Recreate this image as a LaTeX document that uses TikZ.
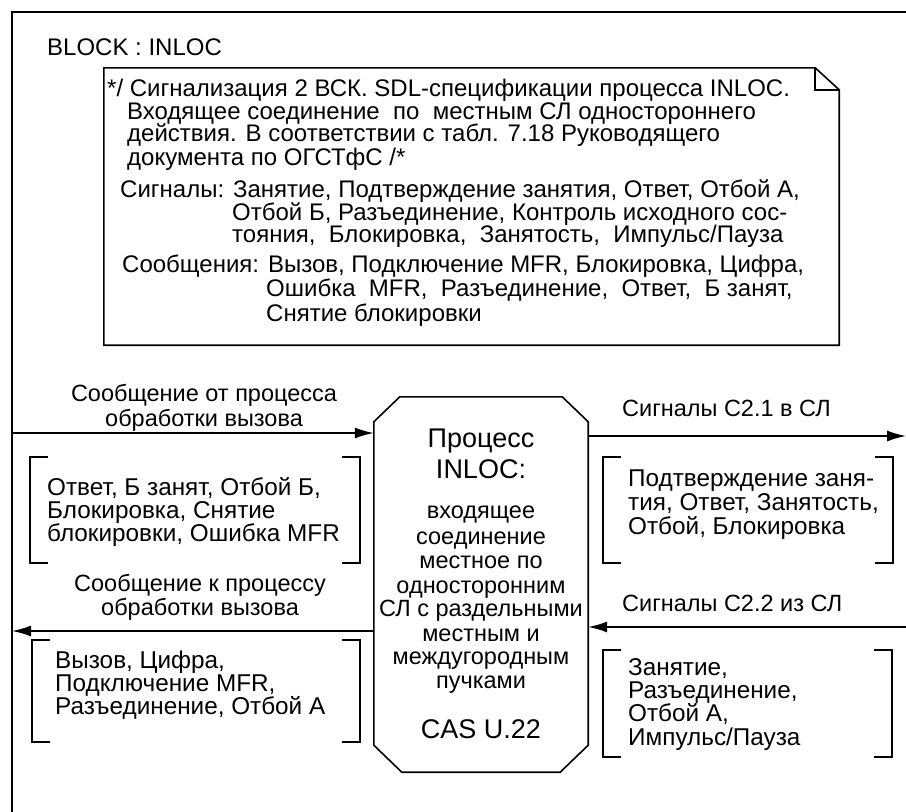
\documentclass[tikz,border=0pt]{standalone}
\usepackage{fontspec}
\setmainfont{Liberation Sans}
\usetikzlibrary{arrows.meta,calc}
\newcommand\sdlbracket[4]{%
  \draw[brk] ({#1+18},#2) -- (#1,#2) -- (#1,#4) -- ({#1+18},#4);
  \draw[brk] ({#3-18},#2) -- (#3,#2) -- (#3,#4) -- ({#3-18},#4);}
\begin{document}
\begin{tikzpicture}[x=1pt,y=-1pt,
  thick line/.style={line width=1.6pt},
  arr/.style={line width=1.6pt,-{Latex[length=19pt,width=11pt]}},
  brk/.style={line width=1.4pt},
  lbl/.style={anchor=base, inner sep=0, font=\fontsize{23.5}{25}\selectfont},
  lblw/.style={anchor=base west, inner sep=0, font=\fontsize{23.5}{25}\selectfont},
  txt/.style={anchor=base west, inner sep=0, font=\fontsize{24.3}{24}\selectfont},
  big/.style={anchor=base, inner sep=0, font=\fontsize{27}{27}\selectfont},
  cmt/.style={anchor=base west, inner sep=0, font=\fontsize{24}{24}\selectfont}
]
\useasboundingbox (0,0) rectangle (906,812);
% outer block frame
\draw[thick line] (906,12) -- (12,12) -- (12,812);
\node[anchor=base west, inner sep=0, font=\fontsize{24}{24}\selectfont] (title) at (47,55) {BLOCK : INLOC};

% comment (note) symbol
\node[minimum width=735pt, minimum height=277pt, inner sep=0] (note) at (471.5,206.5) {};
\draw[thick line] (note.north west) -- ($(note.north east)+(-24,0)$) -- ($(note.north east)+(0,22)$)
  -- (note.south east) -- (note.south west) -- cycle;
\draw[thick line] ($(note.north east)+(-24,0)$) -- ($(note.north east)+(-24,22)$) -- ($(note.north east)+(0,22)$);

\node[cmt] (c1) at (107,96) {*/ Сигнализация 2 ВСК. SDL-спецификации процесса INLOC.};
\node[cmt] (c2) at (127,119) {Входящее соединение\ \ по\ \ местным СЛ одностороннего};
\node[cmt] (c3) at (127,141) {действия. В соответствии с табл. 7.18 Руководящего};
\node[cmt] (c4) at (127,165) {документа по ОГСТфС /*};
\node[cmt] (c5) at (120,197) {Сигналы: Занятие, Подтверждение занятия, Ответ, Отбой А,};
\node[cmt] (c6) at (232,220) {Отбой Б, Разъединение, Контроль исходного сос-};
\node[cmt] (c7) at (232,242) {тояния,\ \ Блокировка,\ \ Занятость,\ \ Импульс/Пауза};
\node[cmt] (c8) at (122,272) {Сообщения: Вызов, Подключение MFR, Блокировка, Цифра,};
\node[cmt] (c9) at (266,296) {Ошибка\ \ MFR,\ \ Разъединение,\ \ Ответ,\ \ Б занят,};
\node[cmt] (c10) at (266,321) {Снятие блокировки};

% process symbol
\node[minimum width=214pt, minimum height=375pt, inner sep=0] (proc) at (481,584.5) {};
\draw[thick line] ($(proc.north west)+(26,0)$) -- ($(proc.north east)+(-26,0)$) -- ($(proc.north east)+(0,25)$)
  -- ($(proc.south east)+(0,-27)$) -- ($(proc.south east)+(-28,0)$) -- ($(proc.south west)+(28,0)$)
  -- ($(proc.south west)+(0,-27)$) -- ($(proc.north west)+(0,25)$) -- cycle;
\node[big] (p1) at (481,447) {Процесс};
\node[big] (p2) at (481,478) {INLOC:};
\node[lbl] (p3) at (481,518) {входящее};
\node[lbl] (p4) at (481,544) {соединение};
\node[lbl] (p5) at (481,568) {местное по};
\node[lbl] (p6) at (481,593) {односторонним};
\node[lbl] (p7) at (481,616) {СЛ с раздельными};
\node[lbl] (p8) at (481,641) {местным и};
\node[lbl] (p9) at (481,664) {междугородным};
\node[lbl] (p10) at (481,688) {пучками};
\node[big] (p11) at (481,738) {CAS U.22};

% channels
\coordinate (inL) at (12,433);
\coordinate (outR) at (906,436);
\coordinate (outL) at (12,631);
\coordinate (inR) at (906,627);
\draw[arr] (inL) -- (inL -| proc.west);
\draw[arr] (outR -| proc.east) -- (outR);
\draw[arr] (outL -| proc.west) -- (outL);
\draw[arr] (inR) -- (inR -| proc.east);

\node[lbl] (a1) at (204,401) {Сообщение от процесса};
\node[lbl] (a2) at (204,426) {обработки вызова};
\node[lblw] (b1) at (622,416) {Сигналы С2.1 в СЛ};
\node[lbl] (a3) at (200,591) {Сообщение к процессу};
\node[lbl] (a4) at (200,615) {обработки вызова};
\node[lblw] (b2) at (622,611) {Сигналы С2.2 из СЛ};

% signal lists
\sdlbracket{30}{457}{360}{563}
\node[txt] (s1) at (47,495) {Ответ, Б занят, Отбой Б,};
\node[txt] (s2) at (47,518) {Блокировка, Снятие};
\node[txt] (s3) at (47,541) {блокировки, Ошибка MFR};

\sdlbracket{603}{457}{893}{563}
\node[txt] (r1) at (628,486) {Подтверждение заня-};
\node[txt] (r2) at (628,510) {тия, Ответ, Занятость,};
\node[txt] (r3) at (628,534) {Отбой, Блокировка};

\sdlbracket{32}{640}{360}{742}
\node[txt] (s4) at (55,668) {Вызов, Цифра,};
\node[txt] (s5) at (55,691) {Подключение MFR,};
\node[txt] (s6) at (55,714) {Разъединение, Отбой А};

\sdlbracket{603}{650}{892}{757}
\node[txt] (r4) at (628,675) {Занятие,};
\node[txt] (r5) at (628,698) {Разъединение,};
\node[txt] (r6) at (628,721) {Отбой А,};
\node[txt] (r7) at (628,745) {Импульс/Пауза};
\end{tikzpicture}
\end{document}
